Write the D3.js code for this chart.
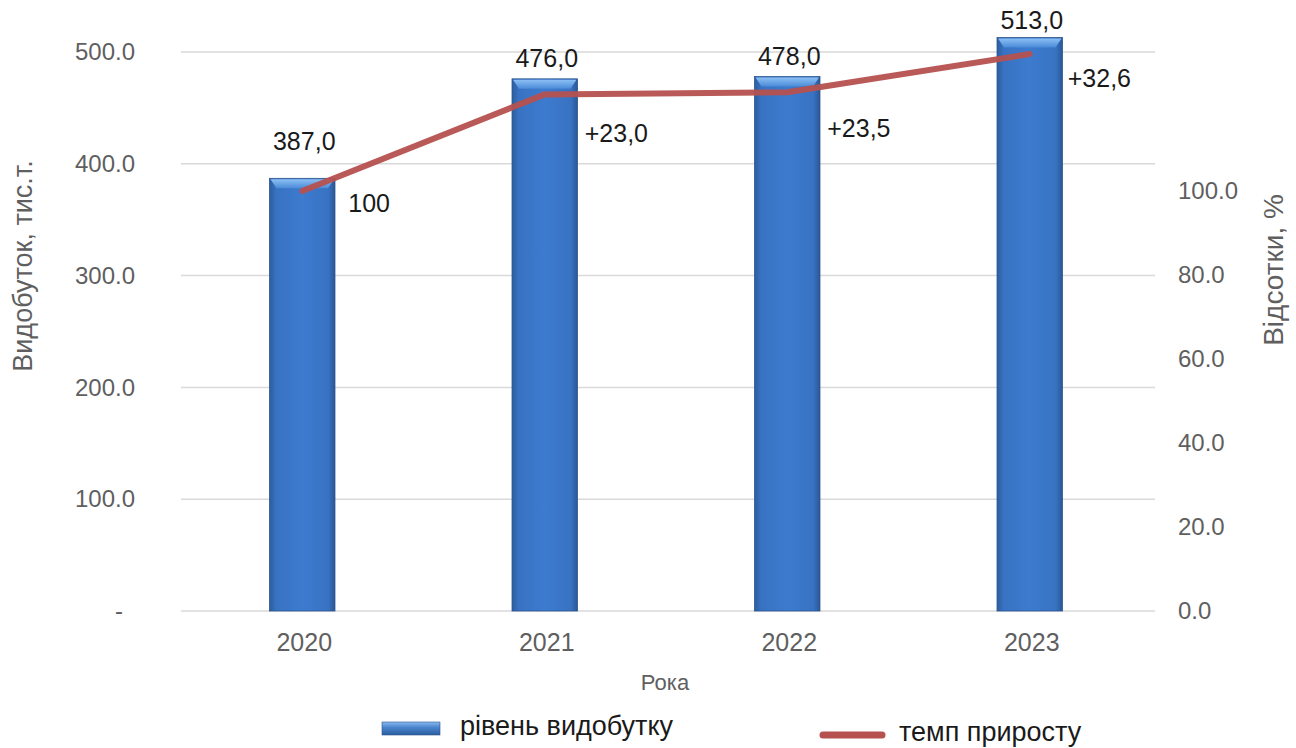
<!DOCTYPE html>
<html>
<head>
<meta charset="utf-8">
<script src="https://cdn.jsdelivr.net/npm/d3@7"></script>
<style>
  html, body { margin: 0; padding: 0; background: #fff; }
  svg { display: block; font-family: "Liberation Sans", Arial, sans-serif; }
</style>
</head>
<body>
<svg id="chart" width="1296" height="748"></svg>
<script>
// Production volume and growth rate by year
const years = ["2020", "2021", "2022", "2023"];
const output = [387.0, 476.0, 478.0, 513.0];          // тис. т.
const growth = [100, 123.0, 123.5, 132.6];             // %
const outputLabels = ["387,0", "476,0", "478,0", "513,0"];
const growthLabels = ["100", "+23,0", "+23,5", "+32,6"];
const leftTicks = [0, 100, 200, 300, 400, 500];
const rightTicks = [0, 20, 40, 60, 80, 100];

const svg = d3.select("#chart");
const plot = { left: 181, right: 1151, top: 52, bottom: 611 };

const x = d3.scaleBand().domain(years).range([plot.left, plot.right]).paddingInner(0.73).paddingOuter(0.365);
const yL = d3.scaleLinear().domain([0, 500]).range([plot.bottom, plot.top]);
const yR = d3.scaleLinear().domain([0, 100]).range([plot.bottom, 191]);

// label placement tweaks (px)
const barLabelGap = [28, 12, 12, 8];
const growthLabelDx = [46, 40, 40, 38];
const growthLabelDy = [21, 48, 45, 33];

// bar gradients
const defs = svg.append("defs");
const gh = defs.append("linearGradient").attr("id", "barH").attr("x1", 0).attr("x2", 1).attr("y1", 0).attr("y2", 0);
gh.append("stop").attr("offset", "0%").attr("stop-color", "#2c5d9e");
gh.append("stop").attr("offset", "10%").attr("stop-color", "#3872c2");
gh.append("stop").attr("offset", "50%").attr("stop-color", "#3d7bcf");
gh.append("stop").attr("offset", "90%").attr("stop-color", "#3872c2");
gh.append("stop").attr("offset", "100%").attr("stop-color", "#2a5796");
const gt = defs.append("linearGradient").attr("id", "barTop").attr("x1", 0).attr("x2", 0).attr("y1", 0).attr("y2", 1);
gt.append("stop").attr("offset", "0%").attr("stop-color", "#8cc0f4");
gt.append("stop").attr("offset", "100%").attr("stop-color", "#4a8ad8");
const lg = defs.append("linearGradient").attr("id", "legBar").attr("x1", 0).attr("x2", 0).attr("y1", 0).attr("y2", 1);
lg.append("stop").attr("offset", "0%").attr("stop-color", "#8cbcee");
lg.append("stop").attr("offset", "40%").attr("stop-color", "#4b86cf");
lg.append("stop").attr("offset", "100%").attr("stop-color", "#2c5d9e");

// gridlines
svg.append("g").selectAll("line").data(leftTicks).join("line")
  .attr("x1", plot.left).attr("x2", plot.right + 4)
  .attr("y1", d => yL(d)).attr("y2", d => yL(d))
  .attr("stroke", "#d9d9d9").attr("stroke-width", 1.5);

// left axis
const axL = svg.append("g").attr("transform", `translate(${plot.left},0)`)
  .call(d3.axisLeft(yL).tickValues(leftTicks).tickSize(0).tickPadding(46)
    .tickFormat(d => d === 0 ? "-" : d3.format(".1f")(d)));
axL.select(".domain").remove();
axL.selectAll("text").attr("fill", "#5f5f5f").attr("font-size", 24)
  .attr("dx", d => d === 0 ? -12 : 0);

// right axis
const axR = svg.append("g").attr("transform", `translate(${plot.right},0)`)
  .call(d3.axisRight(yR).tickValues(rightTicks).tickSize(0).tickPadding(27).tickFormat(d3.format(".1f")));
axR.select(".domain").remove();
axR.selectAll("text").attr("fill", "#5f5f5f").attr("font-size", 24);

// x axis
const axX = svg.append("g").attr("transform", `translate(0,${plot.bottom})`)
  .call(d3.axisBottom(x).tickSize(0).tickPadding(22));
axX.select(".domain").remove();
axX.selectAll("text").attr("fill", "#5f5f5f").attr("font-size", 25).attr("dx", 2);

// axis titles
svg.append("text").attr("transform", "translate(32,266) rotate(-90)")
  .attr("text-anchor", "middle").attr("fill", "#5f5f5f").attr("font-size", 27)
  .text("Видобуток, тис.т.");
svg.append("text").attr("transform", "translate(1283,270) rotate(-90)")
  .attr("text-anchor", "middle").attr("fill", "#5f5f5f").attr("font-size", 28)
  .text("Відсотки, %");
svg.append("text").attr("x", 665).attr("y", 690)
  .attr("text-anchor", "middle").attr("fill", "#5f5f5f").attr("font-size", 22)
  .text("Рока");

// bars
const bars = svg.append("g");
years.forEach((yr, i) => {
  const bx = x(yr), bw = x.bandwidth(), by = yL(output[i]), bh = yL(0) - yL(output[i]);
  bars.append("rect").attr("x", bx).attr("y", by).attr("width", bw).attr("height", bh)
    .attr("fill", "url(#barH)").attr("stroke", "#2b5590").attr("stroke-width", 0.8);
  bars.append("path")
    .attr("d", `M${bx + 1},${by + 1} L${bx + bw - 1},${by + 1} L${bx + bw - 7},${by + 10} L${bx + 7},${by + 10} Z`)
    .attr("fill", "url(#barTop)");
});

// bar value labels
svg.append("g").selectAll("text").data(years).join("text")
  .attr("x", d => x(d) + x.bandwidth() / 2 + 2)
  .attr("y", (d, i) => yL(output[i]) - barLabelGap[i])
  .attr("text-anchor", "middle").attr("fill", "#1a1a1a").attr("font-size", 25)
  .text((d, i) => outputLabels[i]);

// growth line
const cx = d => x(d) + x.bandwidth() / 2;
const line = d3.line().x((d, i) => cx(years[i])).y(d => yR(d));
svg.append("path").datum(growth).attr("d", line)
  .attr("fill", "none").attr("stroke", "#b5514f").attr("stroke-width", 6)
  .attr("stroke-linecap", "round").attr("stroke-linejoin", "round").attr("opacity", 0.95);

// growth labels
svg.append("g").selectAll("text").data(years).join("text")
  .attr("x", (d, i) => cx(d) + growthLabelDx[i])
  .attr("y", (d, i) => yR(growth[i]) + growthLabelDy[i])
  .attr("fill", "#1a1a1a").attr("font-size", 25)
  .text((d, i) => growthLabels[i]);

// legend
const leg = svg.append("g");
leg.append("rect").attr("x", 382).attr("y", 722).attr("width", 58).attr("height", 13)
  .attr("fill", "url(#legBar)").attr("stroke", "#2b5590").attr("stroke-width", 0.6);
leg.append("text").attr("x", 460).attr("y", 735).attr("fill", "#1a1a1a").attr("font-size", 27)
  .text("рівень видобутку");
leg.append("line").attr("x1", 823).attr("x2", 882).attr("y1", 735).attr("y2", 735)
  .attr("stroke", "#b5514f").attr("stroke-width", 7).attr("stroke-linecap", "round");
leg.append("text").attr("x", 899).attr("y", 741).attr("fill", "#1a1a1a").attr("font-size", 27)
  .text("темп приросту");
</script>
</body>
</html>
